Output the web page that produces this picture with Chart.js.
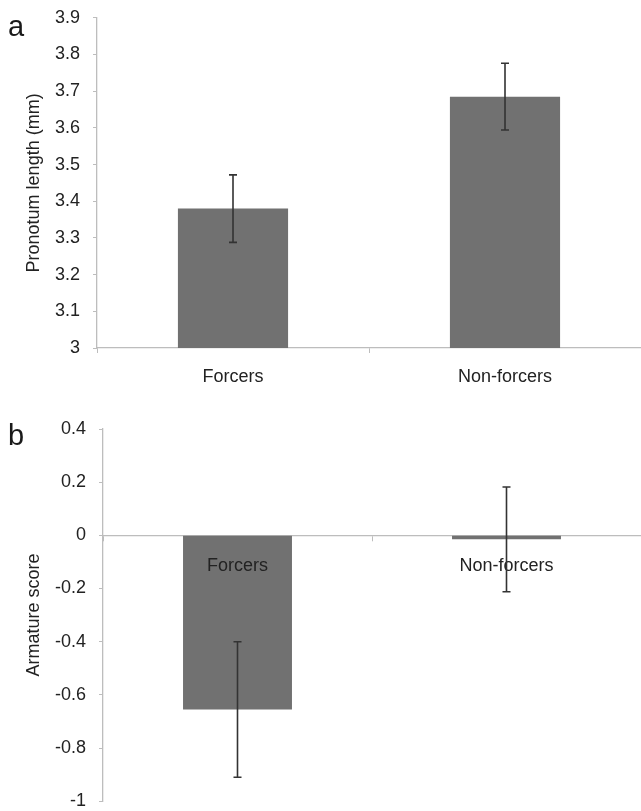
<!DOCTYPE html>
<html>
<head>
<meta charset="utf-8">
<script src="https://cdn.jsdelivr.net/npm/chart.js@4.4.1/dist/chart.umd.min.js"></script>
<style>
  html, body { margin: 0; padding: 0; background: #fff; }
  body { width: 641px; height: 811px; position: relative; overflow: hidden; font-family: "Liberation Sans", Arial, sans-serif; }
  canvas { position: absolute; left: 0; }
  #cA { top: -6px; }
  #cB { top: 400px; }
  .panel { position: absolute; font-size: 29px; color: #1a1a1a; line-height: 1; }
  #labA { left: 8px; top: 12px; }
  #labB { left: 8px; top: 421px; }
</style>
</head>
<body>
<canvas id="cA" width="641" height="406"></canvas>
<canvas id="cB" width="641" height="425"></canvas>
<div class="panel" id="labA">a</div>
<div class="panel" id="labB">b</div>
<script>
// ---- data ----
const categories = ["Forcers", "Non-forcers"];
const pronotumMean = [3.38, 3.685];
const pronotumErr = [0.092, 0.091];
const armatureMean = [-0.655, -0.015];
const armatureErr = [0.255, 0.197];
const pronotumTicks = [3, 3.1, 3.2, 3.3, 3.4, 3.5, 3.6, 3.7, 3.8, 3.9];
const armatureTicks = [-1, -0.8, -0.6, -0.4, -0.2, 0, 0.2, 0.4];

const FONT = "'Liberation Sans', Arial, sans-serif";
const TEXT = "#222";
const AXIS = "#bdbdbd";
const BAR = "#717171";

const errorBarPlugin = {
  id: "errorBars",
  afterDraw(chart, args, opts) {
    const ctx = chart.ctx;
    const meta = chart.getDatasetMeta(0);
    const ys = chart.scales.y;
    ctx.save();
    ctx.strokeStyle = "#333";
    ctx.lineWidth = 1.6;
    meta.data.forEach((bar, i) => {
      const m = opts.mean[i], e = opts.err[i];
      const x = bar.x;
      const yTop = ys.getPixelForValue(m + e);
      const yBot = ys.getPixelForValue(m - e);
      ctx.beginPath();
      ctx.moveTo(x, yTop); ctx.lineTo(x, yBot);
      ctx.moveTo(x - 4, yTop); ctx.lineTo(x + 4, yTop);
      ctx.moveTo(x - 4, yBot); ctx.lineTo(x + 4, yBot);
      ctx.stroke();
    });
    ctx.restore();
  }
};

function makeChart(id, means, errs, tickVals, yTitle, opt) {
  return new Chart(document.getElementById(id), {
    type: "bar",
    data: {
      labels: categories,
      datasets: [{
        data: means,
        backgroundColor: BAR,
        borderWidth: 0,
        categoryPercentage: 1.0,
        barPercentage: 0.405
      }]
    },
    options: {
      responsive: false,
      animation: false,
      devicePixelRatio: 1,
      layout: { padding: opt.padding },
      plugins: {
        legend: { display: false },
        tooltip: { enabled: false },
        errorBars: { mean: means, err: errs }
      },
      scales: {
        x: {
          type: "category",
          position: opt.xPosition,
          offset: true,
          grid: { display: true, offset: true, drawOnChartArea: false, drawTicks: true, tickLength: 5, color: AXIS },
          border: { display: true, color: AXIS, width: 1.3 },
          ticks: { z: 1, color: TEXT, font: { family: FONT, size: 18 }, padding: opt.xPad, maxRotation: 0 },
          afterFit: opt.xAfterFit
        },
        y: {
          type: "linear",
          min: tickVals[0],
          max: tickVals[tickVals.length - 1],
          afterBuildTicks: (s) => { s.ticks = tickVals.map(v => ({ value: v })); },
          grid: { display: true, drawOnChartArea: false, drawTicks: true, tickLength: 4, color: AXIS },
          border: { display: true, color: AXIS, width: 1.3 },
          ticks: { color: TEXT, font: { family: FONT, size: 18 }, padding: 13, callback: (v) => String(v) },
          title: { display: true, text: yTitle, color: TEXT, font: { family: FONT, size: 18 }, padding: { top: 23, bottom: 0 } },
          afterFit: (s) => { s.width = opt.yWidth; }
        }
      }
    },
    plugins: [errorBarPlugin]
  });
}

makeChart("cA", pronotumMean, pronotumErr, pronotumTicks, "Pronotum length (mm)", {
  padding: { top: 0, right: 0, bottom: 0, left: 0 },
  xPosition: "bottom",
  xPad: 13,
  xAfterFit: (s) => { s.height = 52; },
  yWidth: 97
});

makeChart("cB", armatureMean, armatureErr, armatureTicks, "Armature score", {
  padding: { top: 29, right: 0, bottom: 0, left: 0 },
  xPosition: { y: 0 },
  xPad: 15,
  xAfterFit: undefined,
  yWidth: 103
});
</script>
</body>
</html>
